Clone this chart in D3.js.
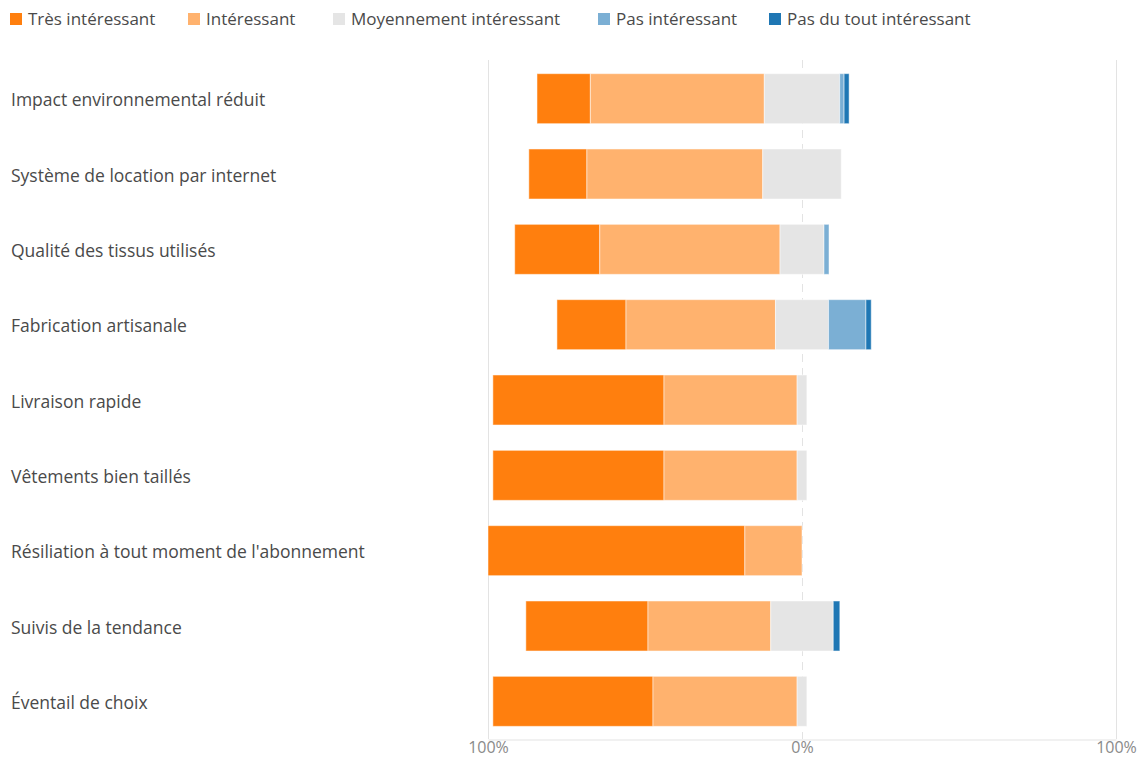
<!DOCTYPE html>
<html>
<head>
<meta charset="utf-8">
<script src="https://cdn.jsdelivr.net/npm/d3@7"></script>
<style>
body { margin: 0; background: #fff; }
text { font-family: "Open Sans", sans-serif; }
</style>
</head>
<body>
<svg></svg>
<script>
var screen = {width: 1143, height: 758};

var categories = ["Impact environnemental réduit", "Système de location par internet",
    "Qualité des tissus utilisés", "Fabrication artisanale", "Livraison rapide",
    "Vêtements bien taillés", "Résiliation à tout moment de l'abonnement",
    "Suivis de la tendance", "Éventail de choix"];

var series = ["Très intéressant", "Intéressant", "Moyennement intéressant", "Pas intéressant", "Pas du tout intéressant"];
var colors = ["#ff7f0e", "#ffb26e", "#e5e5e5", "#7bafd4", "#1f77b4"];

var tres       = [17.0, 18.5, 27.1, 22.0, 54.5, 54.5, 81.8, 38.9, 51.0];
var interess   = [55.4, 56.0, 57.4, 47.6, 42.4, 42.4, 18.2, 39.1, 45.9];
var moyen      = [24.0, 25.0, 14.0, 16.9, 3.1, 3.1, 0, 19.9, 3.1];
var pas        = [1.4, 0, 1.6, 11.9, 0, 0, 0, 0, 0];
var pasDuTout  = [1.6, 0, 0, 1.7, 0, 0, 0, 2.1, 0];

var tickValues = [-100, 0, 100];
var legendX = [10, 188, 333, 598, 769];

var svg = d3.select("svg")
    .attr("width", screen.width)
    .attr("height", screen.height)

var xScale = d3.scaleLinear()
    .domain([-100, 100])
    .range([488, 1116])

var yScale = d3.scaleBand()
    .domain(categories)
    .range([61, 739])
    .paddingInner(0.336)
    .paddingOuter(0.168)

// grid
var grid = svg.append("g")
grid.selectAll("line")
    .data(tickValues)
    .enter()
    .append("line")
    .attr("x1", function(d){ return xScale(d) + 0.5 })
    .attr("x2", function(d){ return xScale(d) + 0.5 })
    .attr("y1", 60)
    .attr("y2", 739)
    .attr("stroke", "#e3e3e3")
    .attr("stroke-width", 1)
    .attr("stroke-dasharray", function(d){ return d == 0 ? "8,6" : null })

var xAxis = d3.axisBottom(xScale)
    .tickValues(tickValues)
    .tickSize(0)
    .tickFormat(function(d){ return Math.abs(d) + "%" })

svg.append("g")
    .attr("transform", "translate(0,739.5)")
    .call(xAxis)
    .call(function(g){
        g.select(".domain").attr("stroke", "#e3e3e3")
        g.selectAll("text")
            .attr("y", 13)
            .attr("dy", 0)
            .attr("fill", "#8a8a8a")
            .style("font-size", "16px")
    })

// stacked rows
var rows = categories.map(function(c, i)
{
    var vals = [tres[i], interess[i], moyen[i], pas[i], pasDuTout[i]]
    var start = -(tres[i] + interess[i] + moyen[i] / 2)
    return vals.map(function(v, k)
    {
        var seg = {cat: c, k: k, x0: start, x1: start + v}
        start += v
        return seg
    }).filter(function(s){ return s.x1 - s.x0 > 0 })
})

svg.append("g")
    .selectAll("g")
    .data(rows)
    .enter()
    .append("g")
    .selectAll("rect")
    .data(function(d){ return d })
    .enter()
    .append("rect")
    .attr("x", function(d){ return xScale(d.x0) })
    .attr("width", function(d){ return xScale(d.x1) - xScale(d.x0) })
    .attr("y", function(d){ return yScale(d.cat) })
    .attr("height", yScale.bandwidth())
    .attr("fill", function(d){ return colors[d.k] })
    .attr("stroke", "rgba(255,255,255,0.5)")
    .attr("stroke-width", 1)

// category labels
svg.append("g")
    .selectAll("text")
    .data(categories)
    .enter()
    .append("text")
    .attr("x", 11)
    .attr("y", function(d){ return yScale(d) + yScale.bandwidth() / 2 + 1.5 })
    .attr("dy", "0.35em")
    .attr("fill", "#4a4a4a")
    .style("font-size", "17.5px")
    .text(function(d){ return d })

// legend
var legend = svg.append("g")
    .selectAll("g")
    .data(series)
    .enter()
    .append("g")
    .attr("transform", function(d, i){ return "translate(" + legendX[i] + ",0)" })

legend.append("rect")
    .attr("x", 0)
    .attr("y", 13)
    .attr("width", 12)
    .attr("height", 12)
    .attr("fill", function(d, i){ return colors[i] })

legend.append("text")
    .attr("x", 18)
    .attr("y", 19)
    .attr("dy", "0.35em")
    .attr("fill", "#4a4a4a")
    .style("font-size", "17px")
    .text(function(d){ return d })
</script>
</body>
</html>
